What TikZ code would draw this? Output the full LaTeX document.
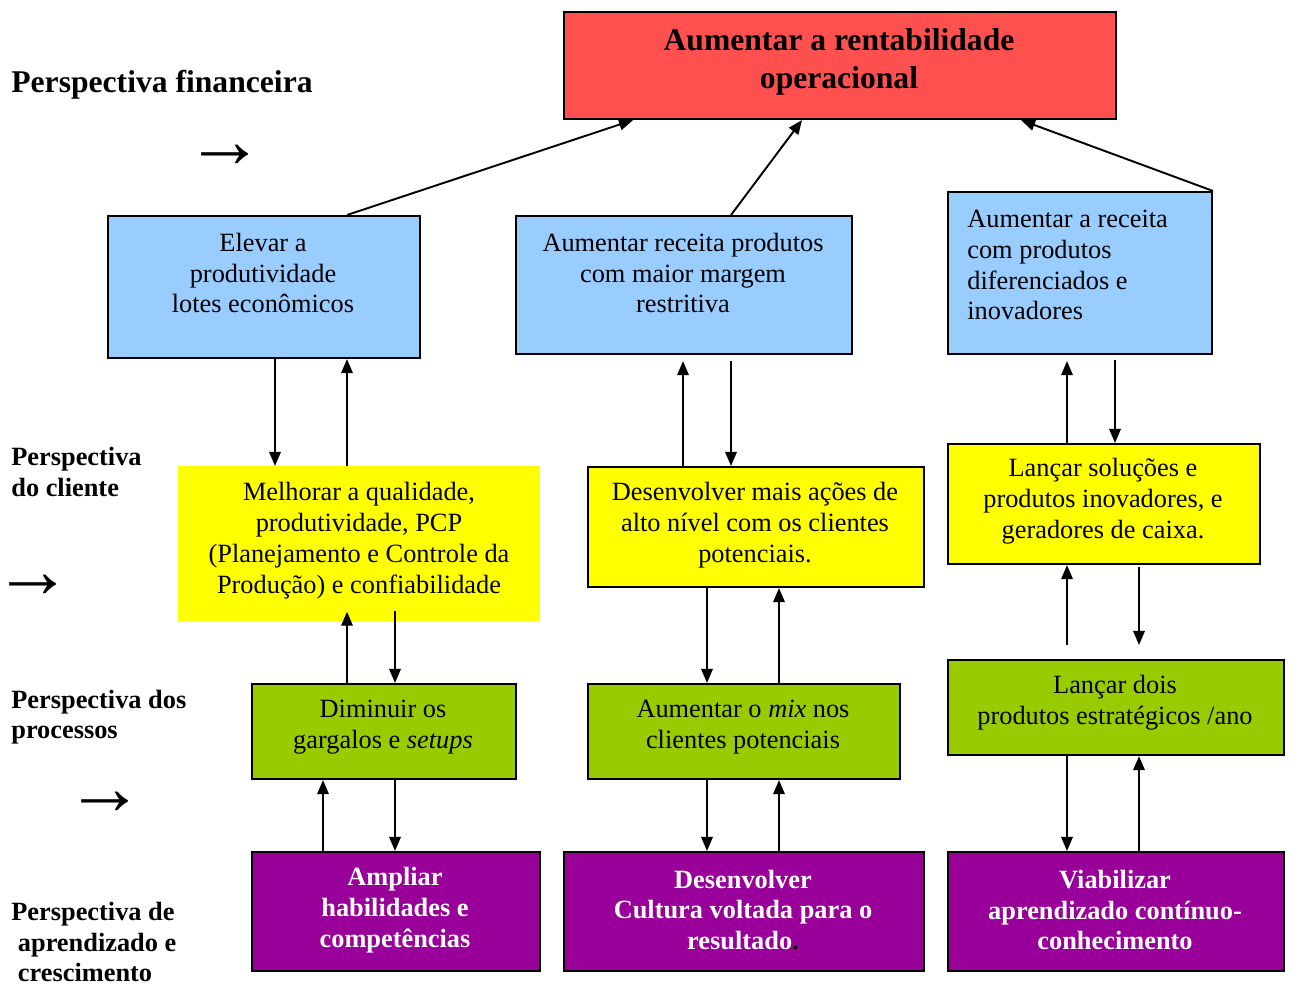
\documentclass[tikz,border=0pt]{standalone}
\usepackage{fontspec}
\setmainfont{Liberation Serif}
\usetikzlibrary{arrows.meta,calc}
\definecolor{cred}{HTML}{FF5050}
\definecolor{cblue}{HTML}{99CCFF}
\definecolor{cyellow}{HTML}{FFFF00}
\definecolor{cgreen}{HTML}{99CC00}
\definecolor{cpurple}{HTML}{990099}
\begin{document}
\begin{tikzpicture}[x=0.02cm,y=-0.02cm,
  box/.style={draw=black, line width=1.2pt, inner sep=0pt, anchor=north west},
  nobox/.style={inner sep=0pt, anchor=north west},
  txt/.style={inner sep=0pt, align=center, font=\fontsize{15}{17.6}\selectfont},
  ptxt/.style={inner sep=0pt, align=center, text=white, font=\bfseries\fontsize{15}{17.6}\selectfont},
  lbl/.style={inner sep=0pt, anchor=west, align=left, font=\bfseries\fontsize{15}{17.4}\selectfont},
  sarrow/.style={inner sep=0pt, anchor=west, font=\fontsize{45}{45}\selectfont},
  arr/.style={line width=1.1pt, -{Triangle[length=8pt,width=6.5pt]}}]
\useasboundingbox (0,0) rectangle (1290,986);

% boxes
\node[box, fill=cred, minimum width=11.04cm, minimum height=2.14cm] (red) at (563,11) {};
\node[box, fill=cblue, minimum width=6.24cm, minimum height=2.84cm] (b1) at (107,215) {};
\node[box, fill=cblue, minimum width=6.72cm, minimum height=2.76cm] (b2) at (515,215) {};
\node[box, fill=cblue, minimum width=5.28cm, minimum height=3.24cm] (b3) at (947,191) {};
\node[nobox, fill=cyellow, minimum width=7.24cm, minimum height=3.10cm] (y1) at (178,466) {};
\node[box, fill=cyellow, minimum width=6.72cm, minimum height=2.40cm] (y2) at (587,466) {};
\node[box, fill=cyellow, minimum width=6.24cm, minimum height=2.40cm] (y3) at (947,443) {};
\node[box, fill=cgreen, minimum width=5.28cm, minimum height=1.90cm] (g1) at (251,683) {};
\node[box, fill=cgreen, minimum width=6.24cm, minimum height=1.90cm] (g2) at (587,683) {};
\node[box, fill=cgreen, minimum width=6.72cm, minimum height=1.90cm] (g3) at (947,659) {};
\node[box, fill=cpurple, minimum width=5.76cm, minimum height=2.38cm] (p1) at (251,851) {};
\node[box, fill=cpurple, minimum width=7.20cm, minimum height=2.38cm] (p2) at (563,851) {};
\node[box, fill=cpurple, minimum width=6.72cm, minimum height=2.38cm] (p3) at (947,851) {};

% texts
\node[inner sep=0pt, align=center, font=\bfseries\fontsize{18}{21.5}\selectfont] (tred) at (839,62) {Aumentar a rentabilidade\\operacional};
\node[txt] (tb1) at (263,273) {Elevar a\\produtividade\\lotes econômicos};
\node[txt] (tb2) at (683,273) {Aumentar receita produtos\\com maior margem\\restritiva};
\node[txt, align=left, anchor=west] (tb3) at (967,265) {Aumentar a receita\\com produtos\\diferenciados e\\inovadores};
\node[txt] (ty1) at (359,541) {Melhorar a qualidade,\\produtividade, PCP\\(Planejamento e Controle da\\Produção) e confiabilidade};
\node[txt] (ty2) at (755,525) {Desenvolver mais ações de\\alto nível com os clientes\\potenciais.};
\node[txt] (ty3) at (1103,501) {Lançar soluções e\\produtos inovadores, e\\geradores de caixa.};
\node[txt] (tg1) at (383,727) {Diminuir os\\gargalos e \textit{setups}};
\node[txt] (tg2) at (743,727) {Aumentar o \textit{mix} nos\\clientes potenciais};
\node[txt] (tg3) at (1115,703) {Lançar dois\\produtos estratégicos /ano};
\node[ptxt] (tp1) at (395,910) {Ampliar\\habilidades e\\competências};
\node[ptxt] (tp2) at (743,910) {Desenvolver\\Cultura voltada para o\\resultado{\color{black}.}};
\node[ptxt] (tp3) at (1115,910) {Viabilizar\\aprendizado contínuo-\\conhecimento};

% left labels
\node[lbl, font=\bfseries\fontsize{18}{21.5}\selectfont] (l1) at (11,85) {Perspectiva financeira};
\node[lbl] (l2) at (11,472) {Perspectiva\\do cliente};
\node[lbl] (l3) at (11,717) {Perspectiva dos\\processos};
\node[lbl] (l4) at (11,942) {Perspectiva de\\\hspace{0.25em}aprendizado e\\\hspace{0.25em}crescimento};
\node[sarrow] (a1) at (192,156) {\kern-4pt→};
\node[sarrow] (a2) at (0,586) {\kern-4pt→};
\node[sarrow] (a3) at (72,803) {\kern-4pt→};

% connectors
\draw[arr] (b1.north -| 347,0) -- (red.south -| 633,0);
\draw[arr] (b2.north -| 731,0) -- (red.south -| 802,0);
\draw[arr] (b3.north east) -- (red.south -| 1021,0);

\draw[arr] (b1.south -| 275,0) -- (y1.north -| 275,0);
\draw[arr] (y1.north -| 347,0) -- (b1.south -| 347,0);
\draw[arr] (y2.north -| 683,0) -- ($(b2.south -| 683,0)+(0,6)$);
\draw[arr] ($(b2.south -| 731,0)+(0,6)$) -- (y2.north -| 731,0);
\draw[arr] (y3.north -| 1067,0) -- ($(b3.south -| 1067,0)+(0,6)$);
\draw[arr] ($(b3.south -| 1115,0)+(0,5)$) -- (y3.north -| 1115,0);

\draw[arr] (g1.north -| 347,0) -- ($(y1.south -| 347,0)+(0,-10)$);
\draw[arr] ($(y1.south -| 395,0)+(0,-11)$) -- (g1.north -| 395,0);
\draw[arr] (y2.south -| 707,0) -- (g2.north -| 707,0);
\draw[arr] (g2.north -| 779,0) -- (y2.south -| 779,0);
\draw[arr] ($(g3.north -| 1067,0)+(0,-14)$) -- (y3.south -| 1067,0);
\draw[arr] ($(y3.south -| 1139,0)+(0,2)$) -- ($(g3.north -| 1139,0)+(0,-14)$);

\draw[arr] (p1.north -| 323,0) -- (g1.south -| 323,0);
\draw[arr] (g1.south -| 395,0) -- (p1.north -| 395,0);
\draw[arr] (g2.south -| 707,0) -- (p2.north -| 707,0);
\draw[arr] (p2.north -| 779,0) -- (g2.south -| 779,0);
\draw[arr] (g3.south -| 1067,0) -- (p3.north -| 1067,0);
\draw[arr] (p3.north -| 1139,0) -- (g3.south -| 1139,0);
\end{tikzpicture}
\end{document}
